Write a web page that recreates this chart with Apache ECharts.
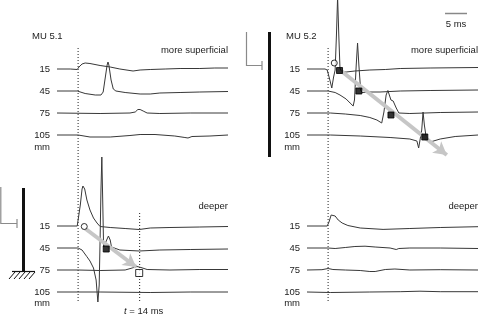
<!DOCTYPE html>
<html><head><meta charset="utf-8">
<script src="https://cdn.jsdelivr.net/npm/echarts@6/dist/echarts.min.js"></script>
<style>html,body{margin:0;padding:0;background:#fff}#c{width:479px;height:316px}</style>
</head><body><div id="c"></div>
<script>
// Depth labels (mm)
const depthLabels = ['15', '45', '75', '105'];
const unitLabel = 'mm';
// Traces: [time (ms) from onset, amplitude (a.u.)]
// MU 5.1, more superficial
const mu51Sup15 = [[-4.8,0],[-1.8,0],[-0.2,-0.5],[0.2,2],[0.9,5],[1.6,6],[2.7,5.5],[5.0,3.5],[7.3,2],[9.5,0],[12.5,-2],[14.1,-1],[16.4,-0.5],[19.8,0],[23.2,0.5],[27.7,0.5],[31.1,1],[34.1,1]];
const mu51Sup45 = [[-4.8,0],[-0.2,0],[0.2,-1.5],[1.6,-2.5],[3.9,-4],[5.2,-4],[5.7,-1],[6.1,11],[6.6,26],[6.8,29],[7.0,26],[7.5,11],[8.0,2],[8.6,0],[10.7,-1.5],[14.1,-3],[16.4,-3],[18.6,-2],[23.2,-1.5],[27.7,-1],[34.1,-0.5]];
const mu51Sup75 = [[-4.8,0],[5.0,-0.5],[11.8,0],[13.0,1],[13.6,3.5],[14.1,3.5],[14.8,2],[15.7,0],[18.6,-0.5],[25.5,0],[34.1,0]];
const mu51Sup105 = [[-4.8,0],[0,0],[2.7,-2],[7.3,-2],[11.8,-0.5],[14.1,0.5],[17.5,0.5],[22.0,-1],[24.3,-2.5],[25.0,-3],[25.9,-1.5],[30.0,-1],[34.1,0]];
// MU 5.1, deeper
const mu51Deep15 = [[-4.8,0],[-0.2,0],[0,2],[0.5,21],[0.9,37],[1.1,40],[1.5,37],[2.0,26],[2.7,16],[3.5,8],[4.3,3],[5.0,-0.5],[7.3,-1.5],[10.7,-2.5],[13.9,-3.5],[16.4,-2],[20.9,-1.5],[27.7,-1],[34.1,-0.5]];
const mu51Deep45 = [[-4.8,0],[0,0],[0.9,-2],[2.0,-8.7],[2.7,-13],[3.5,-20],[4.1,-32],[4.5,-54],[4.8,-37],[5.0,8],[5.2,58],[5.4,91],[5.6,48],[5.8,1],[6.1,2],[6.5,8],[6.9,12],[7.3,8],[7.6,1],[8.0,-1],[9.5,-2],[13.9,-3],[18.6,-2],[25.5,-1.5],[34.1,-1]];
const mu51Deep75 = [[-4.8,0],[0,0],[5.0,-0.5],[10.7,0],[12.3,2],[13.4,3.5],[14.3,2.5],[15.7,0.5],[20.9,0],[27.7,0.5],[34.1,0.5]];
const mu51Deep105 = [[-4.8,0],[5.0,0],[16.4,-0.5],[25.5,0],[34.1,0]];
// MU 5.2, more superficial
const mu52Sup15 = [[-4.8,0],[-0.7,0],[-0.2,-1],[0.34,-10],[0.84,-19],[1.25,-8],[1.6,-1],[1.9,34],[2.16,72],[2.43,34],[2.7,1],[3.1,-3],[4.1,-3],[6.1,-2],[9.5,-1],[13.0,-0.5],[16.4,0.5],[23.2,1],[34.1,1.5]];
const mu52Sup45 = [[-4.8,0],[0,0],[1.6,-1.5],[2.7,-4],[4.1,-8],[5.0,-12],[5.7,-15],[6.0,-9],[6.4,26],[6.7,48],[7.0,26],[7.4,1],[7.7,-1.5],[9.5,-1],[11.8,-1],[16.4,0],[23.2,0.5],[34.1,1]];
const mu52Sup75 = [[-4.8,0],[0.5,0],[3.9,-1],[7.3,-2.5],[9.5,-4.5],[11.1,-7],[12.2,-10],[12.7,1],[13.2,18],[13.6,22.5],[14.0,17],[14.3,13],[14.8,12],[15.5,5],[16.1,0],[18.6,-0.5],[25.5,0.5],[34.1,1]];
const mu52Sup105 = [[-4.8,0],[0.5,0],[7.3,-1],[14.1,-2.5],[18.6,-4],[20.2,-6],[20.6,-13],[20.9,-15],[21.3,5],[21.6,23],[21.9,10],[22.3,-2],[22.5,-5],[23.6,-6.5],[25.5,-4],[28.9,-1.5],[34.1,0]];
// MU 5.2, deeper
const mu52Deep15 = [[-4.8,0],[-0.2,0],[0.2,4],[0.7,11],[1.1,12.5],[1.6,10],[2.3,6],[3.2,3],[4.5,0.5],[7.3,-2],[12.5,-3.4],[18.6,-2.5],[25.5,-1.5],[34.1,-0.7]];
const mu52Deep45 = [[-4.8,0],[0,0],[1.6,-0.5],[3.9,0.5],[6.1,1.5],[8.4,1.8],[10.7,1],[14.1,0],[15.5,-1.5],[15.8,-2.5],[16.1,-0.5],[18.6,0],[25.5,0],[34.1,-0.5]];
const mu52Deep75 = [[-4.8,0],[-1.4,0.3],[0,1.5],[1.1,0.5],[3.9,0],[7.3,-0.5],[9.5,-1.5],[10.7,-1.5],[13.0,0.5],[15.2,1],[18.6,0],[25.5,0.3],[34.1,0]];
const mu52Deep105 = [[-4.8,0],[0.5,-0.5],[9.5,0],[16.4,0.3],[20.9,0.8],[25.5,0.3],[34.1,0.3]];
// Markers: [trace index, time ms, amplitude]
const mu51DeepOpenCircle = [[0, 1.4, -0.5]];
const mu51DeepFilledSquare = [[1, 6.4, -1]];
const mu51DeepOpenSquare = [[2, 13.9, -3]];
const mu52SupOpenCircle = [[0, 1.4, 6]];
const mu52SupFilledSquare = [[0, 2.6, -1.5], [1, 7.0, 0], [2, 14.3, -2], [3, 22.0, -2]];
// Propagation arrows (axis units): [start, end]
const mu51DeepArrow = [[1.6, -159.5], [13.2, -198]];
const mu52SupArrow = [[3.0, -2], [27.0, -86]];
// Times of reference lines (ms)
const onsetMs = 0;
const markMs = 14;
const scaleBarMs = 5;

// ---- layout helpers (positions/styles) ----
const supOffsets = [0, -22, -44, -66];
const deepOffsets = [-157, -179, -201, -223];
const unitOffsets = [-78, -234];
const yMin = -247, yMax = 69, xMin = -4.8, xMax = 34.1;
const traceColor = '#383838';
const FONT = 'Liberation Sans, Arial, sans-serif';

const labelMap = {};
supOffsets.forEach((o, i) => labelMap[String(o)] = depthLabels[i]);
deepOffsets.forEach((o, i) => labelMap[String(o)] = depthLabels[i]);
unitOffsets.forEach(o => labelMap[String(o)] = unitLabel);
const labelVals = supOffsets.concat(deepOffsets, unitOffsets);

const series = [];
function addTraces(traces, offsets, g) {
  traces.forEach((tr, i) => {
    series.push({
      type: 'line', xAxisIndex: g, yAxisIndex: g, z: 3, silent: true,
      symbol: 'none', clip: true,
      lineStyle: { color: traceColor, width: 1 },
      data: tr.map(p => [p[0], p[1] + offsets[i]])
    });
  });
}
addTraces([mu51Sup15, mu51Sup45, mu51Sup75, mu51Sup105], supOffsets, 0);
addTraces([mu51Deep15, mu51Deep45, mu51Deep75, mu51Deep105], deepOffsets, 0);
addTraces([mu52Sup15, mu52Sup45, mu52Sup75, mu52Sup105], supOffsets, 1);
addTraces([mu52Deep15, mu52Deep45, mu52Deep75, mu52Deep105], deepOffsets, 1);

function addMarkers(list, offsets, g, symbol, size, fill) {
  series.push({
    type: 'scatter', xAxisIndex: g, yAxisIndex: g, z: 5, silent: true,
    symbol: symbol, symbolSize: size,
    itemStyle: { color: fill, borderColor: '#000', borderWidth: 1 },
    data: list.map(m => [m[1], m[2] + offsets[m[0]]])
  });
}
addMarkers(mu51DeepOpenCircle, deepOffsets, 0, 'circle', 6, '#fff');
addMarkers(mu51DeepFilledSquare, deepOffsets, 0, 'rect', 6, '#000');
addMarkers(mu51DeepOpenSquare, deepOffsets, 0, 'rect', 7, '#fff');
addMarkers(mu52SupOpenCircle, supOffsets, 1, 'circle', 6, '#fff');
addMarkers(mu52SupFilledSquare, supOffsets, 1, 'rect', 6, '#000');

function addArrow(a, g) {
  series.push({
    type: 'line', xAxisIndex: g, yAxisIndex: g, z: 1, silent: true, data: [],
    markLine: {
      silent: true, symbol: ['none', 'arrow'], symbolSize: [11, 13],
      label: { show: false },
      lineStyle: { color: '#c6c6c6', width: 4, type: 'solid' },
      data: [[{ coord: a[0] }, { coord: a[1] }]]
    }
  });
}
addArrow(mu51DeepArrow, 0);
addArrow(mu52SupArrow, 1);

function addDotted(t, y0, y1, g) {
  series.push({
    type: 'line', xAxisIndex: g, yAxisIndex: g, z: 2, silent: true, symbol: 'none', clip: false,
    lineStyle: { color: '#222', width: 1, type: [1, 2] },
    data: [[t, y0], [t, y1]]
  });
}
addDotted(onsetMs, 21, -232, 0);
addDotted(markMs, -144, -232, 0);
addDotted(onsetMs, 21, -232, 1);
// 5 ms scale bar
series.push({
  type: 'line', xAxisIndex: 1, yAxisIndex: 1, z: 2, silent: true, symbol: 'none',
  lineStyle: { color: '#888', width: 1.5 },
  data: [[26.6, 55.5], [26.6 + scaleBarMs, 55.5]]
});

function yAx(g) {
  return {
    type: 'value', gridIndex: g, min: yMin, max: yMax,
    axisLine: { show: false }, axisTick: { show: false }, splitLine: { show: false },
    axisLabel: {
      customValues: labelVals, margin: 7, fontSize: 9.5, color: '#222', fontFamily: FONT,
      formatter: v => labelMap[String(v)] || ''
    }
  };
}
function xAx(g) {
  return { type: 'value', gridIndex: g, min: xMin, max: xMax, show: false };
}

const txt = (x, y, s, align, extra) => Object.assign({
  type: 'text', x: x, y: y, silent: true,
  style: { text: s, fill: '#222', font: '9.5px ' + FONT, textAlign: align || 'left', textVerticalAlign: 'middle' }
}, extra || {});
const gl = (pts, w, c) => ({ type: 'polyline', silent: true, shape: { points: pts }, style: { stroke: c, lineWidth: w, fill: null } });

const graphic = [
  txt(32, 36, 'MU 5.1'),
  txt(286, 36, 'MU 5.2'),
  txt(228, 50, 'more superficial', 'right'),
  txt(478, 50, 'more superficial', 'right'),
  txt(228, 206, 'deeper', 'right'),
  txt(478, 206, 'deeper', 'right'),
  txt(456, 24, scaleBarMs + ' ms', 'center'),
  {
    type: 'text', x: 124, y: 311, silent: true,
    style: {
      text: '{i|t} = ' + markMs + ' ms', font: '9.5px ' + FONT, fill: '#222', textVerticalAlign: 'middle',
      rich: { i: { fontStyle: 'italic', fontSize: 9.5, fontFamily: FONT } }
    }
  },
  // amplitude scale (L shapes)
  gl([[246.5, 32], [246.5, 65.5], [262, 65.5]], 1.2, '#8a8a8a'),
  gl([[262, 61], [262, 70]], 1.2, '#8a8a8a'),
  gl([[0.8, 187], [0.8, 223.5], [17, 223.5]], 1.2, '#8a8a8a'),
  gl([[17, 219], [17, 228]], 1.2, '#8a8a8a'),
  // electrode bars
  gl([[269.5, 32], [269.5, 157]], 3, '#111'),
  gl([[23.5, 188], [23.5, 272]], 3, '#111'),
  // ground
  gl([[12, 271.5], [35, 271.5]], 1.2, '#111'),
  gl([[15, 272], [9, 279]], 1, '#111'),
  gl([[20, 272], [14, 279]], 1, '#111'),
  gl([[25, 272], [19, 279]], 1, '#111'),
  gl([[30, 272], [24, 279]], 1, '#111'),
  gl([[35, 272], [29, 279]], 1, '#111')
];

const chart = echarts.init(document.getElementById('c'), null, { renderer: 'canvas' });
chart.setOption({
  animation: false,
  backgroundColor: '#fff',
  grid: [
    { left: 57, top: 0, width: 171, height: 316 },
    { left: 307, top: 0, width: 171, height: 316 }
  ],
  xAxis: [xAx(0), xAx(1)],
  yAxis: [yAx(0), yAx(1)],
  series: series,
  graphic: graphic
});
</script>
</body></html>
